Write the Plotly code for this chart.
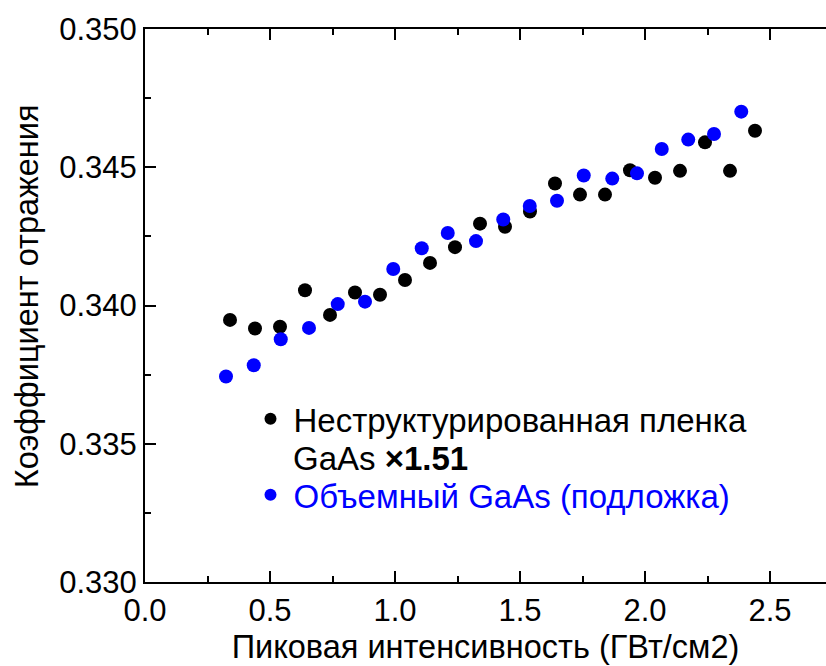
import plotly.graph_objects as go

# Data
film_x = [0.34, 0.44, 0.54, 0.64, 0.74, 0.84, 0.94, 1.04, 1.14, 1.24, 1.34,
          1.44, 1.54, 1.64, 1.74, 1.84, 1.94, 2.04, 2.14, 2.24, 2.34, 2.44]
film_y = [0.33948, 0.33917, 0.33923, 0.34055, 0.33966, 0.34047, 0.34039,
          0.34092, 0.34154, 0.34211, 0.34296, 0.34285, 0.34340, 0.34441,
          0.34401, 0.34401, 0.34489, 0.34462, 0.34487, 0.34590, 0.34487,
          0.34632]

bulk_x = [0.324, 0.435, 0.543, 0.656, 0.771, 0.880, 0.993, 1.107, 1.211,
          1.324, 1.433, 1.539, 1.648, 1.755, 1.869, 1.968, 2.067, 2.173,
          2.276, 2.385]
bulk_y = [0.33743, 0.33784, 0.33878, 0.33919, 0.34005, 0.34014, 0.34132,
          0.34207, 0.34262, 0.34233, 0.34311, 0.34360, 0.34379, 0.34470,
          0.34459, 0.34478, 0.34566, 0.34600, 0.34620, 0.34701]

film_name = "Неструктурированная пленка"
film_name_line2 = "GaAs <b>×1.51</b>"
bulk_name = '<span style="color:#0000FF">Объемный GaAs (подложка)</span>'

x_title = "Пиковая интенсивность (ГВт/см2)"
y_title = "Коэффициент отражения"

x_ticks = [0.0, 0.5, 1.0, 1.5, 2.0, 2.5]
y_ticks = [0.330, 0.335, 0.340, 0.345, 0.350]

FONT = "Liberation Sans, Arial, sans-serif"
LEG_SIZE = 33

fig = go.Figure()
fig.add_trace(go.Scatter(x=film_x, y=film_y, mode="markers", name=film_name,
                         legend="legend",
                         marker=dict(color="#000000", size=14)))
fig.add_trace(go.Scatter(x=bulk_x, y=bulk_y, mode="markers", name=bulk_name,
                         legend="legend2",
                         marker=dict(color="#0000FF", size=14)))

axis_common = dict(
    showgrid=False, zeroline=False, showline=True, linecolor="black",
    linewidth=2, ticks="inside", ticklen=11, tickwidth=2, tickcolor="black",
    tickfont=dict(family=FONT, size=31, color="black"),
)

legend_common = dict(xanchor="left", yanchor="top", bgcolor="rgba(0,0,0,0)",
                     font=dict(family=FONT, size=LEG_SIZE, color="black"),
                     itemsizing="constant", valign="middle", itemwidth=36)

fig.update_layout(
    width=826, height=666,
    margin=dict(l=145, r=0, t=29, b=84),
    paper_bgcolor="white", plot_bgcolor="white",
    font=dict(family=FONT, color="black"),
    showlegend=True,
    legend=dict(x=0.1505, y=0.3456, **legend_common),
    legend2=dict(x=0.1505, y=0.2084, **legend_common),
    xaxis=dict(range=[0, 2.724], tickvals=x_ticks, ticktext=[f"{v:.1f}" for v in x_ticks],
               mirror="ticks",
               minor=dict(dtick=0.25, ticks="inside", ticklen=6, tickwidth=2, tickcolor="black"),
               title=dict(text=x_title, font=dict(family=FONT, size=32.5, color="black"), standoff=8),
               **axis_common),
    yaxis=dict(range=[0.330, 0.350], tickvals=y_ticks, ticktext=[f"{v:.3f}" for v in y_ticks],
               minor=dict(dtick=0.0025, ticks="inside", ticklen=6, tickwidth=2, tickcolor="black"),
               **axis_common),
    annotations=[
        dict(text=y_title, xref="paper", yref="paper", x=-0.173, y=0.517,
             textangle=-90, showarrow=False, xanchor="center", yanchor="middle",
             font=dict(family=FONT, size=32.5, color="black")),
        dict(text=film_name_line2, xref="paper", yref="paper", x=(296 - 145) / 681,
             y=(582 - 458) / 553, showarrow=False, xanchor="left", yanchor="middle",
             xshift=-5, font=dict(family=FONT, size=LEG_SIZE, color="black")),
    ],
)

fig.write_html("out.html")
